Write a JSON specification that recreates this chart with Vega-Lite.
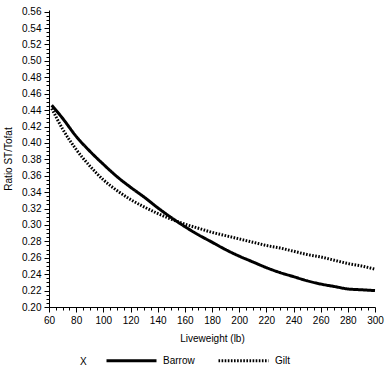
{
  "$schema": "https://vega.github.io/schema/vega-lite/v6.json",
  "width": 326,
  "height": 297,
  "autosize": {"type": "none"},
  "padding": {"left": 49, "top": 10, "right": 16, "bottom": 64},
  "background": "white",
  "config": {
    "view": {"stroke": null},
    "font": "Liberation Sans",
    "axis": {"grid": false, "domainColor": "black", "tickColor": "black", "labelColor": "black", "titleColor": "black", "labelFont": "Liberation Sans", "titleFont": "Liberation Sans", "labelFontSize": 10, "titleFontSize": 10, "titleFontWeight": "normal", "domainWidth": 1, "tickWidth": 1}
  },
  "data": {
    "values": [
      {"x": 62, "y": 0.446, "sex": "Barrow"},
      {"x": 70, "y": 0.430, "sex": "Barrow"},
      {"x": 80, "y": 0.408, "sex": "Barrow"},
      {"x": 90, "y": 0.390, "sex": "Barrow"},
      {"x": 100, "y": 0.374, "sex": "Barrow"},
      {"x": 110, "y": 0.359, "sex": "Barrow"},
      {"x": 120, "y": 0.346, "sex": "Barrow"},
      {"x": 130, "y": 0.334, "sex": "Barrow"},
      {"x": 140, "y": 0.321, "sex": "Barrow"},
      {"x": 150, "y": 0.309, "sex": "Barrow"},
      {"x": 160, "y": 0.298, "sex": "Barrow"},
      {"x": 170, "y": 0.288, "sex": "Barrow"},
      {"x": 180, "y": 0.279, "sex": "Barrow"},
      {"x": 190, "y": 0.270, "sex": "Barrow"},
      {"x": 200, "y": 0.262, "sex": "Barrow"},
      {"x": 210, "y": 0.255, "sex": "Barrow"},
      {"x": 220, "y": 0.248, "sex": "Barrow"},
      {"x": 230, "y": 0.242, "sex": "Barrow"},
      {"x": 240, "y": 0.237, "sex": "Barrow"},
      {"x": 250, "y": 0.232, "sex": "Barrow"},
      {"x": 260, "y": 0.228, "sex": "Barrow"},
      {"x": 270, "y": 0.225, "sex": "Barrow"},
      {"x": 280, "y": 0.222, "sex": "Barrow"},
      {"x": 290, "y": 0.221, "sex": "Barrow"},
      {"x": 300, "y": 0.220, "sex": "Barrow"},
      {"x": 62, "y": 0.442, "sex": "Gilt"},
      {"x": 70, "y": 0.417, "sex": "Gilt"},
      {"x": 80, "y": 0.392, "sex": "Gilt"},
      {"x": 90, "y": 0.372, "sex": "Gilt"},
      {"x": 100, "y": 0.355, "sex": "Gilt"},
      {"x": 110, "y": 0.342, "sex": "Gilt"},
      {"x": 120, "y": 0.331, "sex": "Gilt"},
      {"x": 130, "y": 0.322, "sex": "Gilt"},
      {"x": 140, "y": 0.314, "sex": "Gilt"},
      {"x": 150, "y": 0.307, "sex": "Gilt"},
      {"x": 160, "y": 0.301, "sex": "Gilt"},
      {"x": 170, "y": 0.296, "sex": "Gilt"},
      {"x": 180, "y": 0.291, "sex": "Gilt"},
      {"x": 190, "y": 0.287, "sex": "Gilt"},
      {"x": 200, "y": 0.283, "sex": "Gilt"},
      {"x": 210, "y": 0.279, "sex": "Gilt"},
      {"x": 220, "y": 0.275, "sex": "Gilt"},
      {"x": 230, "y": 0.272, "sex": "Gilt"},
      {"x": 240, "y": 0.268, "sex": "Gilt"},
      {"x": 250, "y": 0.264, "sex": "Gilt"},
      {"x": 260, "y": 0.261, "sex": "Gilt"},
      {"x": 270, "y": 0.257, "sex": "Gilt"},
      {"x": 280, "y": 0.253, "sex": "Gilt"},
      {"x": 290, "y": 0.250, "sex": "Gilt"},
      {"x": 300, "y": 0.246, "sex": "Gilt"}
    ]
  },
  "mark": {"type": "line", "color": "black", "strokeWidth": 3, "interpolate": "monotone", "strokeCap": "butt"},
  "encoding": {
    "x": {"field": "x", "type": "quantitative", "scale": {"domain": [60, 300], "nice": false, "zero": false},
      "axis": {"title": "Liveweight  (lb)",
        "values": [60,65,70,75,80,85,90,95,100,105,110,115,120,125,130,135,140,145,150,155,160,165,170,175,180,185,190,195,200,205,210,215,220,225,230,235,240,245,250,255,260,265,270,275,280,285,290,295,300],
        "labelExpr": "datum.value % 20 === 0 ? datum.label : ''",
        "tickSize": {"condition": {"test": "datum.value % 20 === 0", "value": 5}, "value": 3},
        "labelPadding": 3, "titlePadding": 8, "labelFlush": false, "labelOverlap": false}},
    "y": {"field": "y", "type": "quantitative", "scale": {"domain": [0.2, 0.562], "nice": false, "zero": false},
      "axis": {"title": "Ratio  ST/Tofat",
        "values": [0.2,0.205,0.21,0.215,0.22,0.225,0.23,0.235,0.24,0.245,0.25,0.255,0.26,0.265,0.27,0.275,0.28,0.285,0.29,0.295,0.3,0.305,0.31,0.315,0.32,0.325,0.33,0.335,0.34,0.345,0.35,0.355,0.36,0.365,0.37,0.375,0.38,0.385,0.39,0.395,0.4,0.405,0.41,0.415,0.42,0.425,0.43,0.435,0.44,0.445,0.45,0.455,0.46,0.465,0.47,0.475,0.48,0.485,0.49,0.495,0.5,0.505,0.51,0.515,0.52,0.525,0.53,0.535,0.54,0.545,0.55,0.555,0.56],
        "format": ".2f",
        "labelExpr": "abs(datum.value * 50 - round(datum.value * 50)) < 0.001 ? datum.label : ''",
        "tickSize": {"condition": {"test": "abs(datum.value * 50 - round(datum.value * 50)) < 0.001", "value": 5}, "value": 3},
        "labelPadding": 3, "titlePadding": 8, "labelFlush": false, "labelOverlap": false}},
    "strokeDash": {"field": "sex", "type": "nominal",
      "scale": {"domain": ["Barrow", "Gilt"], "range": [[1, 0], [1.6, 1.5]]},
      "legend": {"title": "X", "orient": "none", "legendX": 31, "legendY": 324, "direction": "horizontal", "titleOrient": "left", "titleAnchor": "end", "titleBaseline": "bottom", "titleFontWeight": "normal", "titleFontSize": 10, "titleColor": "black", "titlePadding": 18, "labelFontSize": 10, "labelColor": "black", "symbolType": "stroke", "symbolSize": 2500, "symbolStrokeWidth": 3, "symbolStrokeColor": "black", "labelOffset": 5, "columnPadding": 17}}
  }
}
